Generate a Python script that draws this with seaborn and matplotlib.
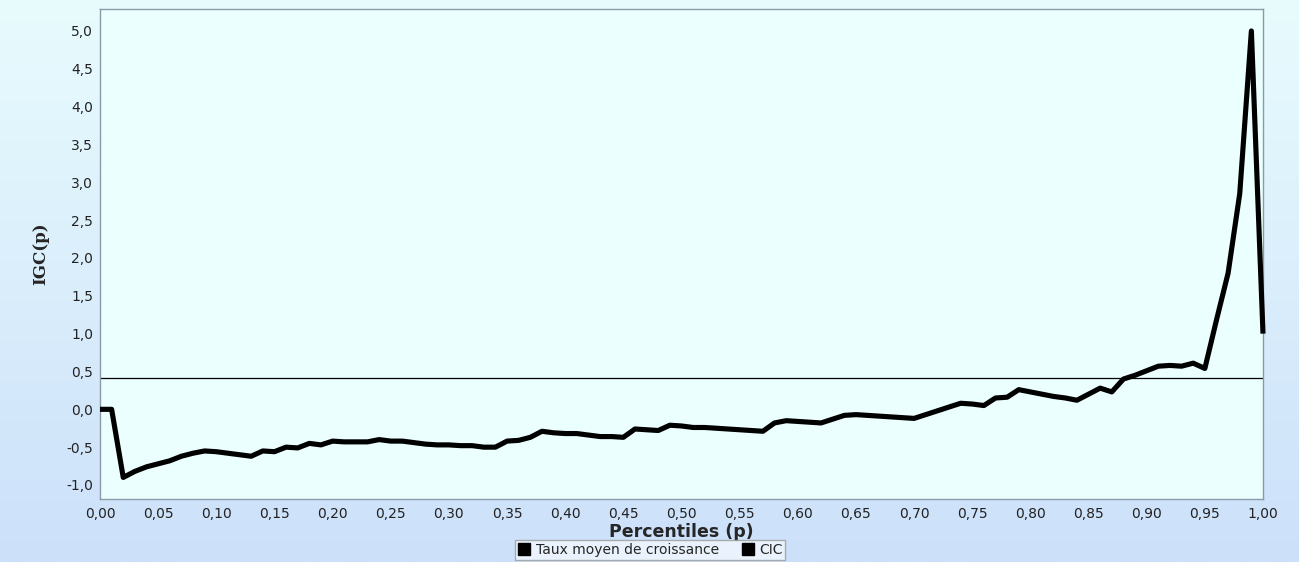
import numpy as np
import pandas as pd
import matplotlib
matplotlib.use("Agg")
import matplotlib.pyplot as plt
from matplotlib.colors import LinearSegmentedColormap
from matplotlib.lines import Line2D
from matplotlib.ticker import FuncFormatter, MultipleLocator
import seaborn as sns

# Growth incidence curve: percentile p and growth rate IGC(p)
percentiles = [round(i * 0.01, 2) for i in range(101)]
igc_values = [
    0.00, 0.00, -0.90, -0.82, -0.76, -0.72, -0.68, -0.62, -0.58, -0.55,
    -0.56, -0.58, -0.60, -0.62, -0.55, -0.56, -0.50, -0.51, -0.45, -0.47,
    -0.42, -0.43, -0.43, -0.43, -0.40, -0.42, -0.42, -0.44, -0.46, -0.47,
    -0.47, -0.48, -0.48, -0.50, -0.50, -0.42, -0.41, -0.37, -0.29, -0.31,
    -0.32, -0.32, -0.34, -0.36, -0.36, -0.37, -0.26, -0.27, -0.28, -0.21,
    -0.22, -0.24, -0.24, -0.25, -0.26, -0.27, -0.28, -0.29, -0.18, -0.15,
    -0.16, -0.17, -0.18, -0.13, -0.08, -0.07, -0.08, -0.09, -0.10, -0.11,
    -0.12, -0.07, -0.02, 0.03, 0.08, 0.07, 0.05, 0.15, 0.16, 0.26,
    0.23, 0.20, 0.17, 0.15, 0.12, 0.20, 0.28, 0.23, 0.40, 0.45,
    0.51, 0.57, 0.58, 0.57, 0.61, 0.54, 1.18, 1.80, 2.85, 5.00,
    1.00,
]
# Mean growth rate, drawn as a horizontal reference line
mean_growth_rate = 0.41

legend_labels = ["Taux moyen de croissance", "CIC"]
x_label = "Percentiles (p)"
y_label = "IGC(p)"

df = pd.DataFrame({"p": percentiles, "igc": igc_values})

sns.set_style("white")
plt.rcParams["font.family"] = ["DejaVu Sans"]

fig = plt.figure(figsize=(12.99, 5.62), dpi=100)

# Vertical gradient background for the whole figure
bg = fig.add_axes([0, 0, 1, 1], zorder=-10)
grad_cmap = LinearSegmentedColormap.from_list("bg", ["#e8fcfe", "#cce0fa"])
bg.imshow(np.linspace(0, 1, 256).reshape(-1, 1), aspect="auto", cmap=grad_cmap,
          extent=[0, 1, 0, 1], origin="upper")
bg.set_axis_off()

ax = fig.add_axes([100 / 1299, 1 - 499 / 562, (1263 - 100) / 1299, (499 - 9) / 562])
ax.set_facecolor("#ecffff")

sns.lineplot(data=df, x="p", y="igc", ax=ax, color="black", linewidth=3.7,
             solid_joinstyle="round", solid_capstyle="butt", zorder=3)
ax.lines[0].set_clip_on(False)
ax.axhline(mean_growth_rate, color="black", linewidth=0.9, zorder=2)

ax.set_xlim(0, 1.0)
ax.set_ylim(-1.185, 5.29)
ax.xaxis.set_major_locator(MultipleLocator(0.05))
ax.yaxis.set_major_locator(MultipleLocator(0.5))
ax.xaxis.set_major_formatter(FuncFormatter(lambda v, _: f"{v:.2f}".replace(".", ",")))
ax.yaxis.set_major_formatter(FuncFormatter(lambda v, _: f"{v:.1f}".replace(".", ",")))
ax.tick_params(axis="both", direction="out", length=4, width=1, color="#444444",
               labelsize=10, labelcolor="#222222", pad=2)
ax.tick_params(axis="y", pad=1)

for s in ax.spines.values():
    s.set_color("#8a9aa6")
    s.set_linewidth(1.0)

ax.set_xlabel(x_label, fontsize=12.5, fontweight="bold", labelpad=1)
ax.set_ylabel(y_label, fontsize=12, fontweight="bold", family="DejaVu Serif", labelpad=12)

handles = [Line2D([], [], marker="s", linestyle="none", color="black", markersize=9),
           Line2D([], [], marker="s", linestyle="none", color="black", markersize=9)]
leg = fig.legend(handles, legend_labels, loc="center", bbox_to_anchor=(650 / 1299, 1 - 550 / 562),
                 ncol=2, frameon=True, fontsize=10, handletextpad=0.3, columnspacing=1.6,
                 borderpad=0.2, handlelength=1.0, fancybox=False, borderaxespad=0)
leg.get_frame().set_edgecolor("#9a9a9a")
leg.get_frame().set_facecolor("#f2f8fe")
leg.get_frame().set_linewidth(1.0)

fig.savefig("out.png", dpi=100)
